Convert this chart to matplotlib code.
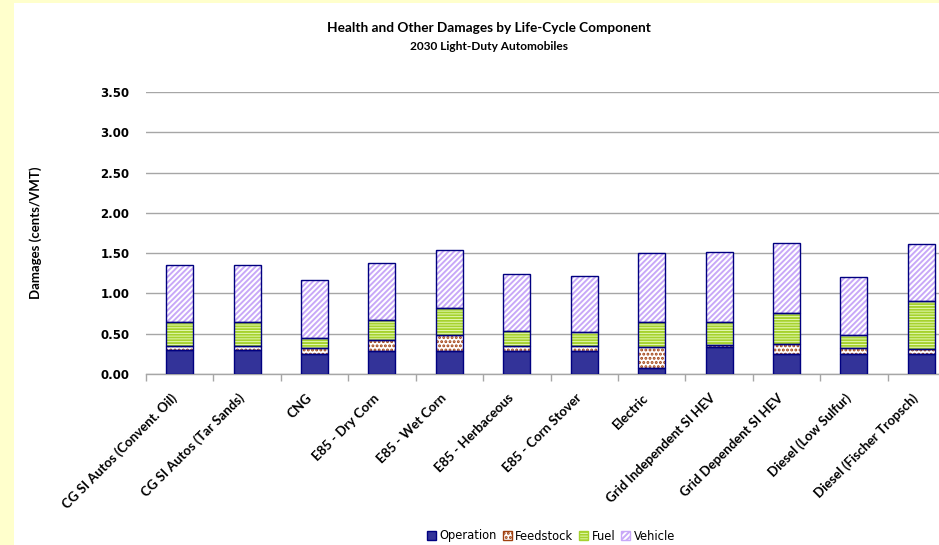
import numpy as np
import matplotlib
matplotlib.use("Agg")
import matplotlib.pyplot as plt
import matplotlib.transforms as mtransforms
from matplotlib.patches import Rectangle, Patch

# damages by life-cycle component, cents per vehicle mile travelled
categories = ["CG SI Autos (Convent. Oil)", "CG SI Autos (Tar Sands)", "CNG",
              "E85 - Dry Corn", "E85 - Wet Corn", "E85 - Herbaceous",
              "E85 - Corn Stover", "Electric", "Grid Independent SI HEV",
              "Grid Dependent SI HEV", "Diesel (Low Sulfur)",
              "Diesel (Fischer Tropsch)"]
operation = [0.30, 0.30, 0.25, 0.28, 0.28, 0.29, 0.29, 0.08, 0.33, 0.25, 0.25, 0.25]
feedstock = [0.05, 0.05, 0.07, 0.14, 0.20, 0.06, 0.06, 0.25, 0.03, 0.12, 0.07, 0.06]
fuel = [0.29, 0.29, 0.13, 0.25, 0.34, 0.18, 0.17, 0.31, 0.28, 0.39, 0.17, 0.60]
vehicle = [0.71, 0.71, 0.72, 0.71, 0.72, 0.71, 0.70, 0.86, 0.87, 0.86, 0.71, 0.70]
yticks = [0.0, 0.5, 1.0, 1.5, 2.0, 2.5, 3.0, 3.5]

plt.rcParams["hatch.linewidth"] = 1.4

# (face colour, hatch, hatch colour) per component
styles = {
    "Operation": ("#333399", None, None),
    "Feedstock": ("white", "....", "#A0400F"),
    "Fuel": ("#EEFFC8", "------", "#A6D22E"),
    "Vehicle": ("white", "//////", "#C8A8F8"),
}
series = {"Operation": operation, "Feedstock": feedstock,
          "Fuel": fuel, "Vehicle": vehicle}

fig = plt.figure(figsize=(9.39, 5.45), dpi=100, facecolor="#FFFFCC")
# white chart area inside the yellow frame
fig.patches.append(Rectangle((14 / 939, 0), 1, 1 - 3 / 545,
                             transform=fig.transFigure, facecolor="white",
                             edgecolor="none", zorder=-1))

ax = fig.add_axes([146 / 939, 1 - 374 / 545, 809 / 939, 282 / 545])
ax.set_facecolor("white")

x = np.arange(len(categories))
width = 0.4
bottom = np.zeros(len(categories))
for name, vals in series.items():
    face, hatch, hcol = styles[name]
    vals = np.array(vals)
    if hatch:
        ax.bar(x, vals, width, bottom=bottom, color=face, hatch=hatch,
               edgecolor=hcol, linewidth=0, zorder=2)
        ax.bar(x, vals, width, bottom=bottom, color="none",
               edgecolor="#000080", linewidth=1.0, zorder=3)
    else:
        ax.bar(x, vals, width, bottom=bottom, color=face,
               edgecolor="#000080", linewidth=1.0, zorder=3)
    bottom += vals

ax.set_xlim(-0.5, len(categories) - 0.5)
ax.set_ylim(0, 3.5)
ax.set_yticks(yticks)
ax.set_yticklabels([f"{v:.2f}" for v in yticks], fontsize=8.5, fontweight="bold",
                   family="DejaVu Sans")
ax.tick_params(axis="y", length=0, pad=12)
ax.yaxis.grid(True, color="#A6A6A6", linewidth=1.0, zorder=0)
ax.set_axisbelow(True)

# category ticks sit on the boundaries, labels go under the bars
ax.set_xticks(np.arange(len(categories) + 1) - 0.5)
ax.set_xticklabels([])
ax.tick_params(axis="x", which="major", length=5, color="#A6A6A6", width=1)
base = ax.get_xaxis_transform()
shift = mtransforms.ScaledTranslation(-5 / 100, -22 / 100, fig.dpi_scale_trans)
for xi, name in zip(x, categories):
    ax.text(xi, 0, name, transform=base + shift, rotation=45, ha="right",
            va="center", rotation_mode="anchor", fontsize=9.5,
            fontweight="bold", family="Lato", clip_on=False)

for side in ["left", "right", "top"]:
    ax.spines[side].set_visible(False)
ax.spines["bottom"].set_color("#A6A6A6")
ax.spines["bottom"].set_linewidth(1.0)

ax.set_ylabel("Damages (cents/VMT)", fontsize=9.5, fontweight="bold",
              family="Lato")
ax.yaxis.set_label_coords(-104 / 809, 0.5)

fig.text(489 / 939, 1 - 28 / 545, "Health and Other Damages by Life-Cycle Component",
         ha="center", va="center", fontsize=9.8, fontweight="bold", family="Lato")
fig.text(489 / 939, 1 - 46 / 545, "2030 Light-Duty Automobiles",
         ha="center", va="center", fontsize=8.6, fontweight="bold", family="Lato")

handles = []
for name in series:
    face, hatch, hcol = styles[name]
    handles.append(Patch(facecolor=face, hatch=hatch,
                         edgecolor=hcol if hatch else "#000080", label=name))
fig.legend(handles=handles, loc="center", bbox_to_anchor=(551 / 939, 1 - 536 / 545),
           ncol=4, frameon=False, handlelength=0.8,
           handleheight=0.8, handletextpad=0.3, columnspacing=0.5,
           prop={"family": "DejaVu Sans", "size": 8.3})

fig.savefig("out.png", dpi=100, facecolor=fig.get_facecolor())
